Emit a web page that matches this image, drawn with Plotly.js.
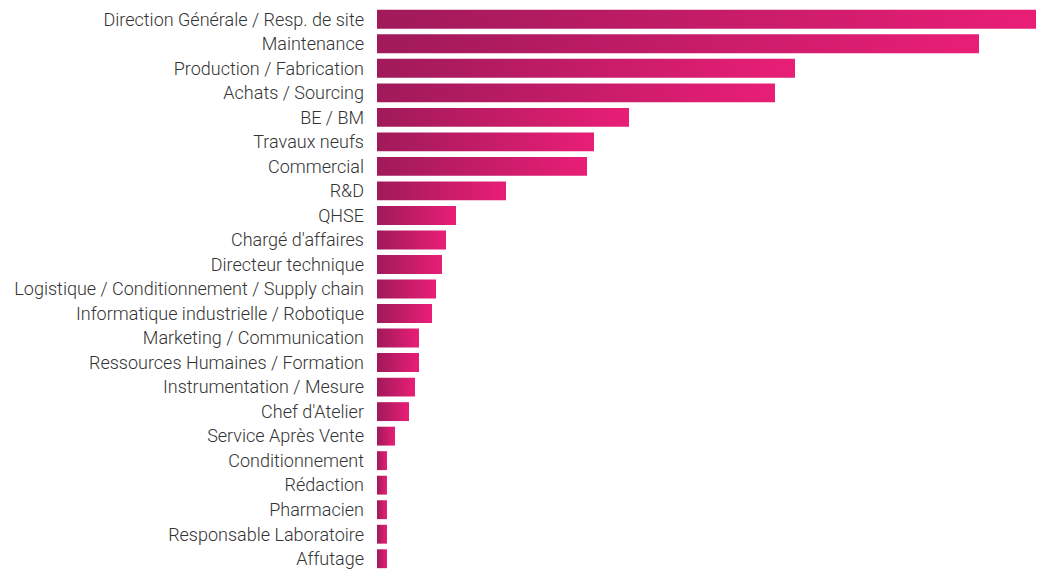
<!DOCTYPE html>
<html>
<head>
<meta charset="utf-8">
<script src="https://cdn.plot.ly/plotly-3.0.1.min.js"></script>
<style>
html,body{margin:0;padding:0;background:#fff;}
#chart{width:1045px;height:572px;}
</style>
</head>
<body>
<div id="chart"></div>
<script>
const categories = [
  "Direction Générale / Resp. de site",
  "Maintenance",
  "Production / Fabrication",
  "Achats / Sourcing",
  "BE / BM",
  "Travaux neufs",
  "Commercial",
  "R&D",
  "QHSE",
  "Chargé d'affaires",
  "Directeur technique",
  "Logistique / Conditionnement / Supply chain",
  "Informatique industrielle / Robotique",
  "Marketing / Communication",
  "Ressources Humaines / Formation",
  "Instrumentation / Mesure",
  "Chef d'Atelier",
  "Service Après Vente",
  "Conditionnement",
  "Rédaction",
  "Pharmacien",
  "Responsable Laboratoire",
  "Affutage"
];
const values = [65.9, 60.2, 41.8, 39.8, 25.2, 21.7, 21.0, 12.9, 7.9, 6.9, 6.5, 5.9, 5.5, 4.2, 4.2, 3.8, 3.2, 1.8, 1.0, 1.0, 1.0, 1.0, 1.0];

const trace = {
  type: 'bar',
  orientation: 'h',
  x: values,
  y: categories,
  marker: {color: '#c81c6a', line: {width: 0}},
  hoverinfo: 'x+y'
};

const layout = {
  width: 1045,
  height: 572,
  margin: {l: 377, r: 9, t: 7, b: 1},
  paper_bgcolor: '#ffffff',
  plot_bgcolor: '#ffffff',
  bargap: 0.23,
  showlegend: false,
  font: {family: 'Roboto, sans-serif', size: 18, color: '#333333'},
  xaxis: {
    range: [0, Math.max(...values)],
    showgrid: false, zeroline: false, showticklabels: false, showline: false, ticks: ''
  },
  yaxis: {
    autorange: 'reversed',
    showgrid: false, zeroline: false, showline: false, ticks: '',
    ticklabelstandoff: 12,
    tickfont: {family: 'Roboto, sans-serif', size: 18, color: '#333333', weight: 300}
  }
};

Plotly.newPlot('chart', [trace], layout, {displayModeBar: false, staticPlot: true}).then(function(gd){
  const svg = gd.querySelector('svg.main-svg');
  const ns = 'http://www.w3.org/2000/svg';
  let defs = svg.querySelector('defs');
  if (!defs) { defs = document.createElementNS(ns, 'defs'); svg.insertBefore(defs, svg.firstChild); }
  const grad = document.createElementNS(ns, 'linearGradient');
  grad.setAttribute('id', 'barGrad');
  grad.setAttribute('x1', '0'); grad.setAttribute('y1', '0');
  grad.setAttribute('x2', '1'); grad.setAttribute('y2', '0');
  [['0%', '#a01a5a'], ['100%', '#e91e76']].forEach(function(s){
    const st = document.createElementNS(ns, 'stop');
    st.setAttribute('offset', s[0]);
    st.setAttribute('stop-color', s[1]);
    grad.appendChild(st);
  });
  defs.appendChild(grad);
  gd.querySelectorAll('.bars .point path').forEach(function(p){
    p.style.fill = 'url(#barGrad)';
  });
});
</script>
</body>
</html>
